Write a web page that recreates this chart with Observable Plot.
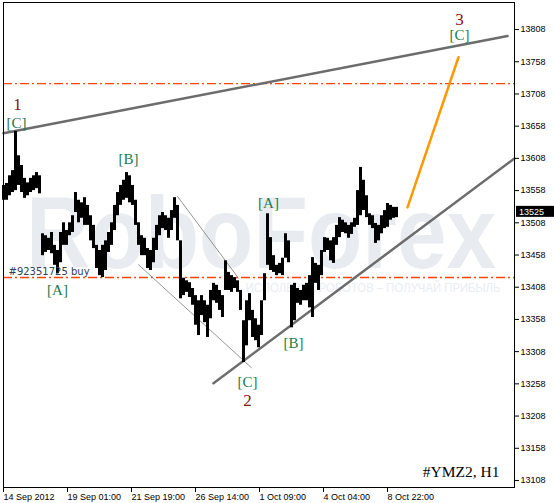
<!DOCTYPE html>
<html><head><meta charset="utf-8">
<script src="https://cdn.jsdelivr.net/npm/d3@7"></script>
<script src="https://cdn.jsdelivr.net/npm/@observablehq/plot@0.6"></script>
<style>body{margin:0;background:#fff} svg{display:block;background:#fff}</style>
</head><body><div id="chart"></div>
<script>
// H1 bars of #YMZ2, sampled every 3 bars: high / low
const barStep = 3;
const hi = [13566,13569,13581,13589,13650,13612,13597,13577,13570,13577,13581,13586,13581,
  13491,13488,13484,13493,13473,13465,13493,13508,13496,13508,13519,13555,13543,13539,13547,13535,
  13519,13504,13473,13465,13473,13480,13493,13508,13535,13555,13566,13574,13586,13581,13566,13543,
  13508,13488,13484,13468,13465,13484,13504,13519,13524,13519,13515,13527,13547,13535,13480,13422,
  13418,13415,13406,13395,13387,13395,13387,13380,13403,13414,13411,13403,13395,13449,13431,13426,
  13423,13418,13403,13356,13387,13398,13372,13359,13349,13387,13429,13522,13485,13457,13442,13445,
  13453,13491,13480,13411,13414,13406,13403,13411,13414,13426,13454,13445,13442,13465,13485,13484,
  13480,13485,13504,13516,13512,13508,13504,13508,13515,13558,13594,13574,13550,13522,13519,13507,
  13504,13519,13527,13538,13535,13532,13532];
const lo = [13543,13543,13550,13555,13558,13566,13555,13546,13550,13555,13558,13561,13553,
  13457,13462,13465,13460,13442,13429,13446,13473,13473,13488,13493,13524,13508,13515,13504,13504,
  13480,13468,13437,13426,13423,13434,13462,13473,13496,13519,13535,13543,13546,13539,13535,13504,
  13473,13457,13457,13437,13434,13446,13465,13488,13499,13496,13484,13496,13515,13480,13390,13395,
  13400,13392,13380,13349,13333,13364,13353,13330,13359,13387,13383,13372,13361,13403,13403,13400,
  13406,13400,13372,13291,13317,13356,13330,13325,13314,13333,13387,13442,13434,13431,13426,13429,
  13426,13453,13446,13345,13356,13383,13380,13387,13387,13376,13361,13414,13403,13426,13462,13465,
  13449,13445,13473,13485,13493,13491,13484,13490,13501,13504,13519,13527,13516,13504,13499,13476,
  13480,13491,13499,13501,13512,13515,13516];

const priceTicks = [13108,13158,13208,13258,13308,13358,13408,13458,13508,13558,13608,13658,13708,13758,13808];
const dateTickBars = [0,64,128,192,256,320,384];
const dateTickLabels = ["14 Sep 2012","19 Sep 01:00","21 Sep 19:00","26 Sep 14:00","1 Oct 09:00","4 Oct 04:00","8 Oct 22:00"];
const levels = [13724, 13423];
const orderLabel = "#92351725 buy";
const lastPrice = 13525;
const symbolLabel = "#YMZ2, H1";

// trend lines: [bar, price] end points
const upperBar = [0, 504], upperPrice = [13647, 13798];
const supportBar = [210, 511], supportPrice = [13259, 13608];
const thinUpperBar = [174, 235], thinUpperPrice = [13549, 13422];
const thinLowerBar = [135, 248], thinLowerPrice = [13443, 13283];
const forecastBar = [404, 455], forecastPrice = [13532, 13765];

// wave labels
const waveText  = ["1","[C]","[B]","[A]","[A]","[C]","2","[B]","3","[C]"];
const waveBar   = [14, 13, 125, 54, 265, 244, 244, 290, 456, 456];
const wavePrice = [13692,13662,13606,13403,13538,13260,13232,13321,13823,13800];
const waveMajor = [true,false,false,false,false,false,true,false,true,false];

const bars = hi.map((h, i) => ({bar: i * barStep, hi: h, lo: lo[i]}));
const seg = (b, p) => b.map((x, i) => ({bar: x, price: p[i]}));
const waves = waveText.map((t, i) => ({t, bar: waveBar[i], price: wavePrice[i], major: waveMajor[i]}));

const greenTxt = "#1f7a4c", redTxt = "#8b1414", grayLine = "#6c6c6c";

const plot = Plot.plot({
  width: 554, height: 503,
  marginLeft: 3, marginRight: 40, marginTop: 2, marginBottom: 16,
  x: {domain: [0, 511], axis: null},
  y: {domain: [13097.1, 13850], axis: null},
  style: {fontFamily: "Liberation Sans, Arial, sans-serif", fontSize: "9px", color: "black", background: "white"},
  marks: [
    Plot.text(["RoboForex"], {frameAnchor: "middle", text: d => d, dx: 2, dy: -10, fontSize: 102, fontWeight: "bold", fill: "#e8ecf1", fontFamily: "Liberation Sans, Arial, sans-serif"}),
    Plot.text(["ИСПОЛЬЗУЙ РОБОТОВ – ПОЛУЧАЙ ПРИБЫЛЬ"], {frameAnchor: "middle", text: d => d, dx: 114, dy: 43, fontSize: 12, fill: "#eaedf2"}),
    Plot.ruleY(levels, {stroke: "#ff4500", strokeWidth: 1.4, strokeDasharray: "9,3,2,3"}),
    Plot.line(seg(thinUpperBar, thinUpperPrice), {x: "bar", y: "price", stroke: "#7a7a7a", strokeWidth: 0.8}),
    Plot.line(seg(thinLowerBar, thinLowerPrice), {x: "bar", y: "price", stroke: "#7a7a7a", strokeWidth: 0.8}),
    Plot.line(seg(upperBar, upperPrice), {x: "bar", y: "price", stroke: grayLine, strokeWidth: 2.5}),
    Plot.line(seg(supportBar, supportPrice), {x: "bar", y: "price", stroke: grayLine, strokeWidth: 2.5}),
    Plot.ruleX(bars, {x: "bar", y1: "lo", y2: "hi", stroke: "black", strokeWidth: 3}),
    Plot.line(seg(forecastBar, forecastPrice), {x: "bar", y: "price", stroke: "#ff9800", strokeWidth: 2.5}),
    Plot.text([orderLabel], {x: 5, y: levels[1], text: d => d, textAnchor: "start", dy: -6, fontSize: 10, fill: "#2e4159", fontFamily: "DejaVu Sans, sans-serif"}),
    Plot.text(waves, {x: "bar", y: "price", text: "t", fill: d => d.major ? redTxt : greenTxt, fontSize: d => d.major ? 17 : 15, fontFamily: "Liberation Serif, Times New Roman, serif"}),
    Plot.text([symbolLabel], {frameAnchor: "bottom-right", text: d => d, textAnchor: "end", lineAnchor: "middle", dx: -15, dy: -15, fontSize: 15.5, fill: "black", fontFamily: "Liberation Serif, Times New Roman, serif"}),
    Plot.frame({stroke: "black", strokeWidth: 1}),
    Plot.axisY(priceTicks, {anchor: "right", tickSize: 4, tickPadding: 2, label: null, fontSize: 9, tickFormat: d => String(d)}),
    Plot.axisX(dateTickBars, {anchor: "bottom", tickSize: 5, tickPadding: 1, textAnchor: "start", dx: 0, label: null, fontSize: 9, tickFormat: (d, i) => dateTickLabels[i]})
  ]
});

// watermark text widths
d3.select(plot).selectAll("text").each(function() {
  const t = this.textContent;
  if (t === "RoboForex") d3.select(this).attr("textLength", 470).attr("lengthAdjust", "spacingAndGlyphs");
  if (t.startsWith("ИСПОЛЬЗУЙ")) d3.select(this).attr("textLength", 255).attr("lengthAdjust", "spacingAndGlyphs");
});

// current price tag on the right axis
const yS = plot.scale("y"), xS = plot.scale("x");
const py = yS.apply(lastPrice), px = xS.apply(511) + 2;
const tag = d3.select(plot).append("g");
tag.append("rect").attr("x", px).attr("y", py - 5.5).attr("width", 554 - px).attr("height", 11).attr("fill", "black");
tag.append("text").attr("x", px + 3).attr("y", py).attr("dy", "0.35em").attr("fill", "white")
  .attr("text-anchor", "start").attr("font-size", 9).attr("font-family", "Liberation Sans, Arial, sans-serif").text(String(lastPrice));

document.getElementById("chart").append(plot);
</script>
</body></html>
